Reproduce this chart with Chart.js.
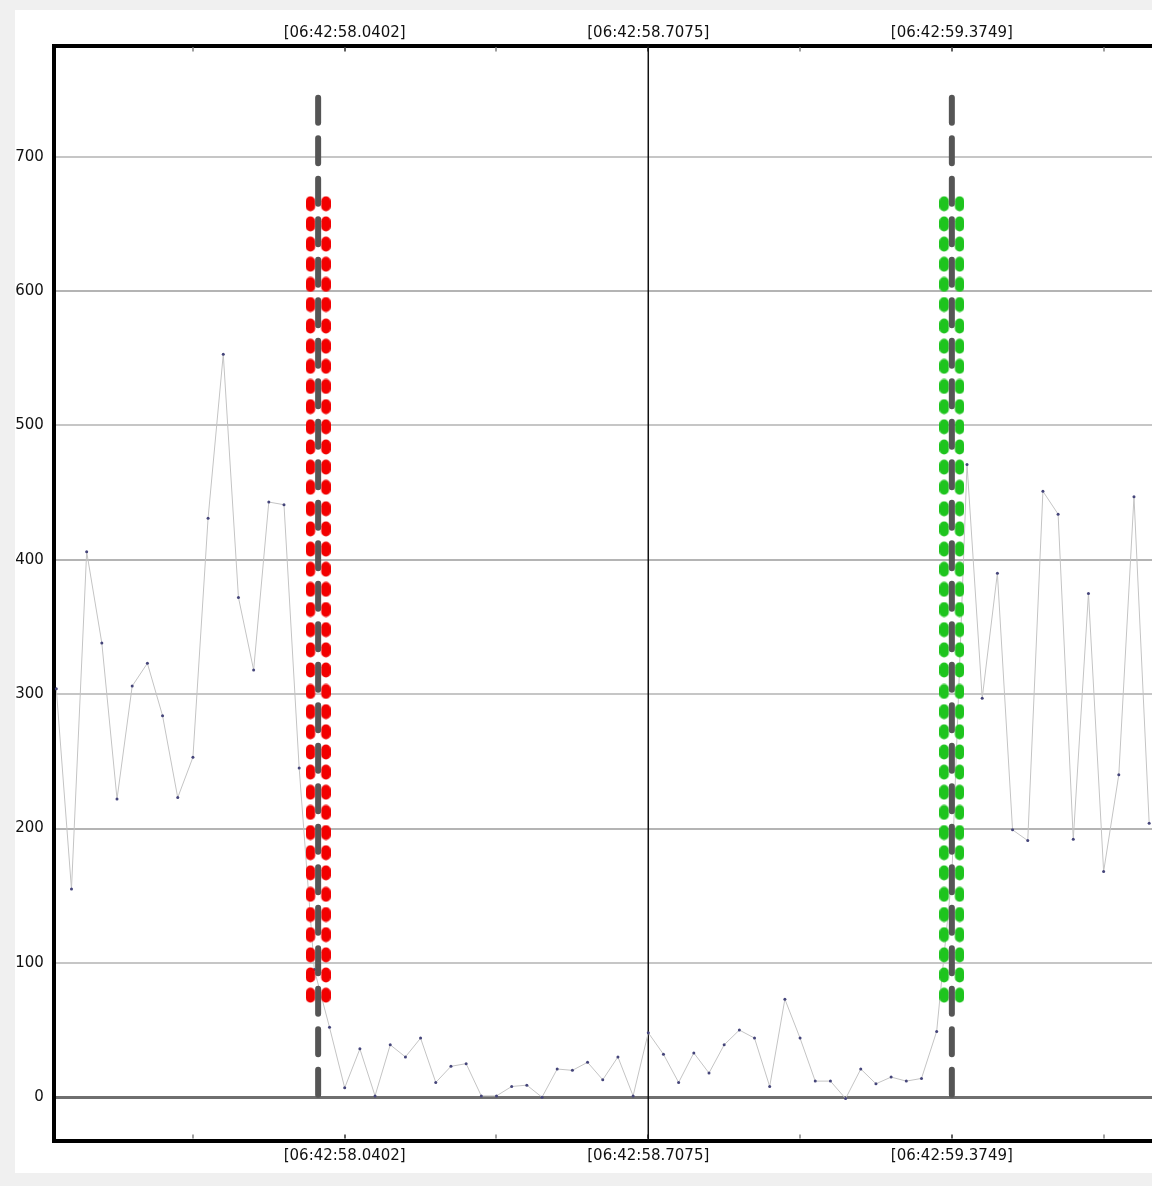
<!DOCTYPE html>
<html>
<head>
<meta charset="utf-8">
<script src="https://cdn.jsdelivr.net/npm/chart.js@4.4.1/dist/chart.umd.min.js"></script>
<style>
html, body { margin: 0; padding: 0; background: #f0f0f0; overflow: hidden; width: 1152px; height: 1186px; }
#panel { position: absolute; left: 15px; top: 10px; width: 1150px; height: 1163px; background: #fff; }
#chart { display: block; }
</style>
</head>
<body>
<div id="panel"><canvas id="chart" width="1150" height="1162"></canvas></div>
<script>
// sample values, one per frame (index 0 = first visible frame)
const samples = [304, 155, 406, 338, 222, 306, 323, 284, 223, 253,
                 431, 553, 372, 318, 443, 441, 245, 95, 52, 7,
                 36, 1, 39, 30, 44, 11, 23, 25, 1, 1,
                 8, 9, 0, 21, 20, 26, 13, 30, 1, 48,
                 32, 11, 33, 18, 39, 50, 44, 8, 73, 44,
                 12, 12, -1, 21, 10, 15, 12, 14, 49, 165,
                 471, 297, 390, 199, 191, 451, 434, 192, 375, 168,
                 240, 447, 204];

const tickIdx = [19, 39, 59];
const tickLabels = ['[06:42:58.0402]', '[06:42:58.7075]', '[06:42:59.3749]'];
const minorIdx = [9, 29, 49, 69];
const yTicks = [0, 100, 200, 300, 400, 500, 600, 700];

// event markers
const markerLevels = [76, 91, 106, 121, 136, 151, 167, 182, 197, 212,
                      227, 242, 257, 272, 287, 302, 318, 333, 348, 363,
                      378, 393, 408, 423, 438, 454, 469, 484, 499, 514,
                      529, 544, 559, 574, 590, 605, 620, 635, 650, 665];
const redAt = 17.25;
const greenAt = 59;
const cursorAt = 39;
const dashSpan = [744, -1];

const xMin = -0.165, xMax = 72.45;
const yMin = -32.2, yMax = 782.8;

function ovalPair(color) {
  const c = document.createElement('canvas');
  c.width = 25; c.height = 16;
  const g = c.getContext('2d');
  g.fillStyle = color;
  [0, 15.5].forEach(x0 => {
    g.beginPath();
    g.roundRect(x0, 0.5, 9.5, 15, 4.75);
    g.fill();
  });
  return c;
}

const innerTicks = {
  id: 'innerTicks',
  beforeDatasetsDraw(chart) {
    const { ctx, chartArea: a, scales: { x } } = chart;
    ctx.save();
    const mark = (v, col) => {
      const px = Math.round(x.getPixelForValue(v));
      ctx.fillStyle = col;
      ctx.fillRect(px - 1, a.top + 2, 2, 4);
      ctx.fillRect(px - 1, a.bottom - 6, 2, 4);
    };
    minorIdx.forEach(v => mark(v, '#a0a0a0'));
    tickIdx.forEach(v => mark(v, '#606060'));
    ctx.restore();
  }
};

const font = { family: 'DejaVu Sans', size: 15 };

new Chart(document.getElementById('chart'), {
  type: 'line',
  data: {
    datasets: [
      {
        data: samples.map((v, i) => ({ x: i, y: v })),
        borderColor: '#c4c4c4',
        borderWidth: 1,
        pointRadius: 1.5,
        pointBorderWidth: 0,
        pointBackgroundColor: '#45457a',
        order: 3
      },
      {
        data: [{ x: cursorAt, y: yMin }, { x: cursorAt, y: yMax }],
        borderColor: '#111',
        borderWidth: 1.5,
        pointRadius: 0,
        order: 4
      },
      {
        data: markerLevels.map(v => ({ x: redAt, y: v })),
        showLine: false,
        pointStyle: ovalPair('#f20000'),
        pointRadius: 8,
        order: 2
      },
      {
        data: markerLevels.map(v => ({ x: greenAt, y: v })),
        showLine: false,
        pointStyle: ovalPair('#1ec41e'),
        pointRadius: 8,
        order: 2
      },
      {
        data: [{ x: redAt, y: dashSpan[0] }, { x: redAt, y: dashSpan[1] }],
        borderColor: '#555',
        borderWidth: 6,
        borderDash: [25, 15.5],
        borderCapStyle: 'round',
        pointRadius: 0,
        order: 1
      },
      {
        data: [{ x: greenAt, y: dashSpan[0] }, { x: greenAt, y: dashSpan[1] }],
        borderColor: '#555',
        borderWidth: 6,
        borderDash: [25, 15.5],
        borderCapStyle: 'round',
        pointRadius: 0,
        order: 1
      }
    ]
  },
  options: {
    responsive: false,
    animation: false,
    events: [],
    layout: { padding: 0 },
    plugins: { legend: { display: false }, tooltip: { enabled: false } },
    scales: {
      x: {
        type: 'linear',
        position: 'bottom',
        min: xMin, max: xMax,
        afterBuildTicks: s => { s.ticks = tickIdx.map(v => ({ value: v })); },
        afterFit: s => { s.height = 31.5; },
        ticks: {
          callback: v => tickLabels[tickIdx.indexOf(v)],
          autoSkip: false, maxRotation: 0, padding: 6.5,
          color: '#111', font
        },
        grid: { drawOnChartArea: false, drawTicks: false },
        border: { display: true, color: '#000', width: 4 }
      },
      x2: {
        type: 'linear',
        position: 'top',
        min: xMin, max: xMax,
        afterBuildTicks: s => { s.ticks = tickIdx.map(v => ({ value: v })); },
        afterFit: s => { s.height = 35.5; },
        ticks: {
          callback: v => tickLabels[tickIdx.indexOf(v)],
          autoSkip: false, maxRotation: 0, padding: 3.5,
          color: '#111', font
        },
        grid: { drawOnChartArea: false, drawTicks: false },
        border: { display: true, color: '#000', width: 4 }
      },
      y: {
        min: yMin, max: yMax,
        afterBuildTicks: s => { s.ticks = yTicks.map(v => ({ value: v })); },
        afterFit: s => { s.width = 38.8; },
        ticks: { padding: 10, color: '#111', font },
        grid: {
          drawTicks: false,
          color: c => c.tick.value === 0 ? '#6f6f6f' : (c.tick.value % 200 === 0 ? '#b4b4b4' : '#c6c6c6'),
          lineWidth: c => c.tick.value === 0 ? 3 : 2
        },
        border: { display: true, color: '#000', width: 4 }
      }
    }
  },
  plugins: [innerTicks]
});
</script>
</body>
</html>
